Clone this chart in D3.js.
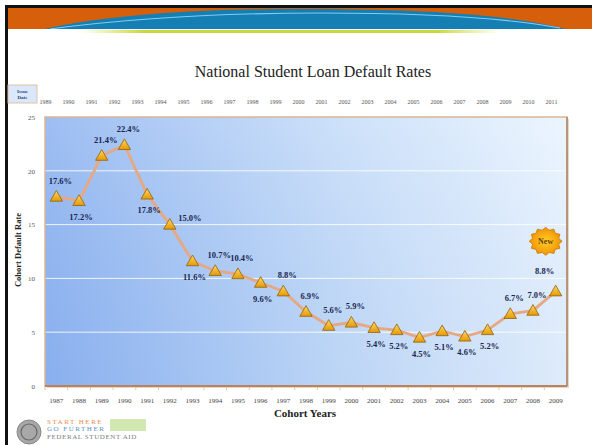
<!DOCTYPE html>
<html>
<head>
<meta charset="utf-8">
<script src="https://cdn.jsdelivr.net/npm/d3@7"></script>
<style>
  html, body { margin: 0; padding: 0; background: #fff; }
  svg { display: block; }
  text { font-family: "Liberation Serif", "Times New Roman", serif; }
</style>
</head>
<body>
<div id="chart"></div>
<script>
// cohort years and their default rates (%)
const cohortYears = ["1987","1988","1989","1990","1991","1992","1993","1994","1995","1996","1997","1998",
  "1999","2000","2001","2002","2003","2004","2005","2006","2007","2008","2009"];
const defaultRates = [17.6,17.2,21.4,22.4,17.8,15.0,11.6,10.7,10.4,9.6,8.8,6.9,
  5.6,5.9,5.4,5.2,4.5,5.1,4.6,5.2,6.7,7.0,8.8];
// issue year shown on the top row
const issueYears = ["1989","1990","1991","1992","1993","1994","1995","1996","1997","1998","1999","2000",
  "2001","2002","2003","2004","2005","2006","2007","2008","2009","2010","2011"];
const yTicks = [0, 5, 10, 15, 20, 25];

const width = 592;
const height = 445;
const margin = { top: 117, right: 25, bottom: 59, left: 45 };

const svg = d3.select("#chart")
  .append("svg")
  .attr("width", width)
  .attr("height", height);

const defs = svg.append("defs");

const bg = defs.append("linearGradient").attr("id", "plotBg")
  .attr("x1", "0%").attr("x2", "100%").attr("y1", "0%").attr("y2", "0%");
bg.append("stop").attr("offset", "0%").attr("stop-color", "#8db3f0");
bg.append("stop").attr("offset", "55%").attr("stop-color", "#c3dbf8");
bg.append("stop").attr("offset", "100%").attr("stop-color", "#e9f4fe");

const shade = defs.append("linearGradient").attr("id", "plotShade")
  .attr("x1", "0%").attr("x2", "0%").attr("y1", "0%").attr("y2", "100%");
shade.append("stop").attr("offset", "0%").attr("stop-color", "#ffffff").attr("stop-opacity", 0.15);
shade.append("stop").attr("offset", "100%").attr("stop-color", "#5a86d8").attr("stop-opacity", 0.08);

const tri = defs.append("linearGradient").attr("id", "triFill")
  .attr("x1", "0%").attr("x2", "0%").attr("y1", "0%").attr("y2", "100%");
tri.append("stop").attr("offset", "0%").attr("stop-color", "#ffd766");
tri.append("stop").attr("offset", "100%").attr("stop-color", "#e59a00");

const star = defs.append("radialGradient").attr("id", "starFill");
star.append("stop").attr("offset", "0%").attr("stop-color", "#ffcf2e");
star.append("stop").attr("offset", "100%").attr("stop-color", "#f29200");

const green = defs.append("linearGradient").attr("id", "greenLine")
  .attr("x1", "0%").attr("x2", "100%");
green.append("stop").attr("offset", "0%").attr("stop-color", "#d4e04a").attr("stop-opacity", 0);
green.append("stop").attr("offset", "15%").attr("stop-color", "#c9d93c").attr("stop-opacity", 1);
green.append("stop").attr("offset", "85%").attr("stop-color", "#c9d93c").attr("stop-opacity", 1);
green.append("stop").attr("offset", "100%").attr("stop-color", "#d4e04a").attr("stop-opacity", 0);

// --- slide frame and header swoosh ---
svg.append("rect").attr("x", 5).attr("y", 5).attr("width", width - 5).attr("height", 3).attr("fill", "#111");
svg.append("rect").attr("x", 5).attr("y", 5).attr("width", 3).attr("height", height - 5).attr("fill", "#111");
svg.append("rect").attr("x", 8).attr("y", 8).attr("width", width - 8).attr("height", 22).attr("fill", "#d65f0c");
svg.append("path")
  .attr("d", "M40,30 C120,12 220,9 300,9 C400,9 500,12 570,30 Z")
  .attr("fill", "#157fb4");
svg.append("path")
  .attr("d", "M50,29 C140,17 240,13 320,13 C420,13 500,17 560,28")
  .attr("fill", "none").attr("stroke", "#7fcdf0").attr("stroke-width", 1.2);
svg.append("rect").attr("x", 8).attr("y", 29).attr("width", width - 8).attr("height", 2).attr("fill", "#ffffff");
svg.append("rect").attr("x", 80).attr("y", 30).attr("width", 420).attr("height", 3).attr("fill", "url(#greenLine)");

// --- title ---
svg.append("text")
  .attr("x", 313).attr("y", 77)
  .attr("text-anchor", "middle")
  .attr("font-size", 16)
  .attr("fill", "#222")
  .text("National Student Loan Default Rates");

// --- scales ---
const x = d3.scaleBand()
  .domain(cohortYears)
  .range([margin.left, width - margin.right])
  .padding(0);

const y = d3.scaleLinear()
  .domain([0, 25])
  .range([height - margin.bottom, margin.top]);

const xTop = d3.scalePoint()
  .domain(issueYears)
  .range([45, 551]);

const cx = d => x(d) + x.bandwidth() / 2;

// --- plot area ---
const plotW = width - margin.right - margin.left;
const plotH = height - margin.bottom - margin.top;
svg.append("rect")
  .attr("x", margin.left + 2).attr("y", margin.top + 2)
  .attr("width", plotW).attr("height", plotH)
  .attr("fill", "#e8d6c4");
svg.append("rect")
  .attr("x", margin.left).attr("y", margin.top)
  .attr("width", plotW).attr("height", plotH)
  .attr("fill", "url(#plotBg)");
svg.append("rect")
  .attr("x", margin.left).attr("y", margin.top)
  .attr("width", plotW).attr("height", plotH)
  .attr("fill", "url(#plotShade)");

// gridlines
svg.append("g")
  .selectAll("line")
  .data(yTicks.filter(t => t > 0 && t < 25))
  .enter()
  .append("line")
  .attr("x1", margin.left).attr("x2", width - margin.right)
  .attr("y1", d => y(d)).attr("y2", d => y(d))
  .attr("stroke", "#ffffff").attr("stroke-opacity", 0.85).attr("stroke-width", 1);

svg.append("rect")
  .attr("x", margin.left).attr("y", margin.top)
  .attr("width", plotW).attr("height", plotH)
  .attr("fill", "none").attr("stroke", "#dcb591").attr("stroke-width", 1.5);
svg.append("line")
  .attr("x1", width - margin.right).attr("x2", width - margin.right)
  .attr("y1", margin.top).attr("y2", height - margin.bottom)
  .attr("stroke", "#9c7a5e").attr("stroke-width", 1.2);
svg.append("line")
  .attr("x1", margin.left).attr("x2", width - margin.right)
  .attr("y1", height - margin.bottom).attr("y2", height - margin.bottom)
  .attr("stroke", "#b98260").attr("stroke-width", 2);

// y axis labels
const yAxis = svg.append("g")
  .attr("transform", `translate(${margin.left},0)`)
  .call(d3.axisLeft(y).tickValues(yTicks).tickSize(0).tickPadding(10));
yAxis.select(".domain").remove();
yAxis.selectAll("text")
  .attr("font-family", "Liberation Serif")
  .attr("font-size", 7)
  .attr("fill", "#555");

// bottom axis
const xAxis = svg.append("g")
  .attr("transform", `translate(0,${height - margin.bottom})`)
  .call(d3.axisBottom(x).tickSize(3).tickPadding(9));
xAxis.select(".domain").remove();
xAxis.selectAll(".tick line").attr("stroke", "#e6c88a").attr("transform", `translate(${-x.bandwidth() / 2},1)`);
xAxis.selectAll("text")
  .attr("font-family", "Liberation Serif")
  .attr("font-size", 7)
  .attr("fill", "#444");

// top axis (issue years)
const topAxis = svg.append("g")
  .attr("transform", "translate(0,104)")
  .call(d3.axisTop(xTop).tickSize(0).tickPadding(0));
topAxis.select(".domain").remove();
topAxis.selectAll("text")
  .attr("font-family", "Liberation Serif")
  .attr("font-size", 6)
  .attr("fill", "#555");

// issue date box
svg.append("rect")
  .attr("x", 8).attr("y", 85).attr("width", 29).attr("height", 18)
  .attr("fill", "#dbe7fb").attr("stroke", "#e0c2a2").attr("stroke-width", 1);
svg.append("text").attr("x", 22.5).attr("y", 92.5).attr("text-anchor", "middle")
  .attr("font-size", 5).attr("font-weight", "bold").attr("fill", "#2a3f80").text("Issue");
svg.append("text").attr("x", 22.5).attr("y", 98.5).attr("text-anchor", "middle")
  .attr("font-size", 5).attr("font-weight", "bold").attr("fill", "#2a3f80").text("Date");

// axis titles
svg.append("text")
  .attr("transform", "translate(21,250) rotate(-90)")
  .attr("text-anchor", "middle")
  .attr("font-size", 8.5).attr("font-weight", "bold").attr("fill", "#222")
  .text("Cohort Default Rate");
svg.append("text")
  .attr("x", 305).attr("y", 417)
  .attr("text-anchor", "middle")
  .attr("font-size", 11).attr("font-weight", "bold").attr("fill", "#222")
  .text("Cohort Years");

// --- series ---
const points = cohortYears.map((yr, i) => ({ year: yr, value: defaultRates[i] }));

const line = d3.line()
  .x(d => cx(d.year))
  .y(d => y(d.value));

svg.append("path")
  .datum(points)
  .attr("d", line)
  .attr("fill", "none")
  .attr("stroke", "#e7a881")
  .attr("stroke-width", 2.8);

svg.append("g")
  .selectAll("path")
  .data(points)
  .enter()
  .append("path")
  .attr("d", d3.symbol().type(d3.symbolTriangle).size(66))
  .attr("transform", d => `translate(${cx(d.year)},${y(d.value) + 1})`)
  .attr("fill", "url(#triFill)")
  .attr("stroke", "#8f6212")
  .attr("stroke-width", 0.8);

// label placement: a = above, b = below, r = right, l = above-left
const labelSide = ["a","b","a","a","b","r","b","a","a","b","a","a",
  "a","a","b","b","b","b","b","b","a","a","l"];
const labelOffset = {
  a: [4, -16],
  b: [2, 16],
  r: [20, -7],
  l: [-11, -20]
};

svg.append("g")
  .selectAll("text")
  .data(points)
  .enter()
  .append("text")
  .attr("x", (d, i) => cx(d.year) + labelOffset[labelSide[i]][0])
  .attr("y", (d, i) => y(d.value) + labelOffset[labelSide[i]][1])
  .attr("dy", "0.35em")
  .attr("text-anchor", "middle")
  .attr("font-size", 8.5)
  .attr("font-weight", "bold")
  .attr("fill", "#1a2650")
  .text(d => d.value.toFixed(1) + "%");

// "New" starburst on the latest cohort
const last = points[points.length - 1];
const sx = cx(last.year) - 10;
const sy = y(last.value) - 50;
const burst = [];
for (let k = 0; k < 24; k++) {
  const r = k % 2 === 0 ? 16.5 : 13.5;
  const a = (k / 24) * Math.PI * 2;
  burst.push([sx + r * Math.cos(a), sy + r * Math.sin(a) * 0.85]);
}
svg.append("path")
  .attr("d", d3.line().curve(d3.curveLinearClosed)(burst))
  .attr("fill", "url(#starFill)")
  .attr("stroke", "#c67a00")
  .attr("stroke-width", 0.8);
svg.append("text")
  .attr("x", sx).attr("y", sy + 3)
  .attr("text-anchor", "middle")
  .attr("font-family", "Liberation Sans")
  .attr("font-size", 8).attr("font-weight", "bold")
  .attr("fill", "#6a4200")
  .text("New");

// --- footer logo ---
svg.append("circle").attr("cx", 29).attr("cy", 432).attr("r", 12)
  .attr("fill", "#a8a8a8").attr("stroke", "#888").attr("stroke-width", 1);
svg.append("circle").attr("cx", 29).attr("cy", 432).attr("r", 8)
  .attr("fill", "none").attr("stroke", "#666").attr("stroke-width", 1.2);
svg.append("rect").attr("x", 110).attr("y", 419).attr("width", 36).attr("height", 12)
  .attr("fill", "#c6e29c").attr("opacity", 0.8);
svg.append("text").attr("x", 47).attr("y", 424)
  .attr("font-size", 7).attr("letter-spacing", 1.5).attr("fill", "#ec8a4a").text("START HERE");
svg.append("text").attr("x", 47).attr("y", 431)
  .attr("font-size", 7).attr("letter-spacing", 1.5).attr("fill", "#5b93c2").text("GO FURTHER");
svg.append("text").attr("x", 47).attr("y", 439)
  .attr("font-size", 7).attr("letter-spacing", 0.6).attr("fill", "#808080").text("FEDERAL STUDENT AID");
</script>
</body>
</html>
